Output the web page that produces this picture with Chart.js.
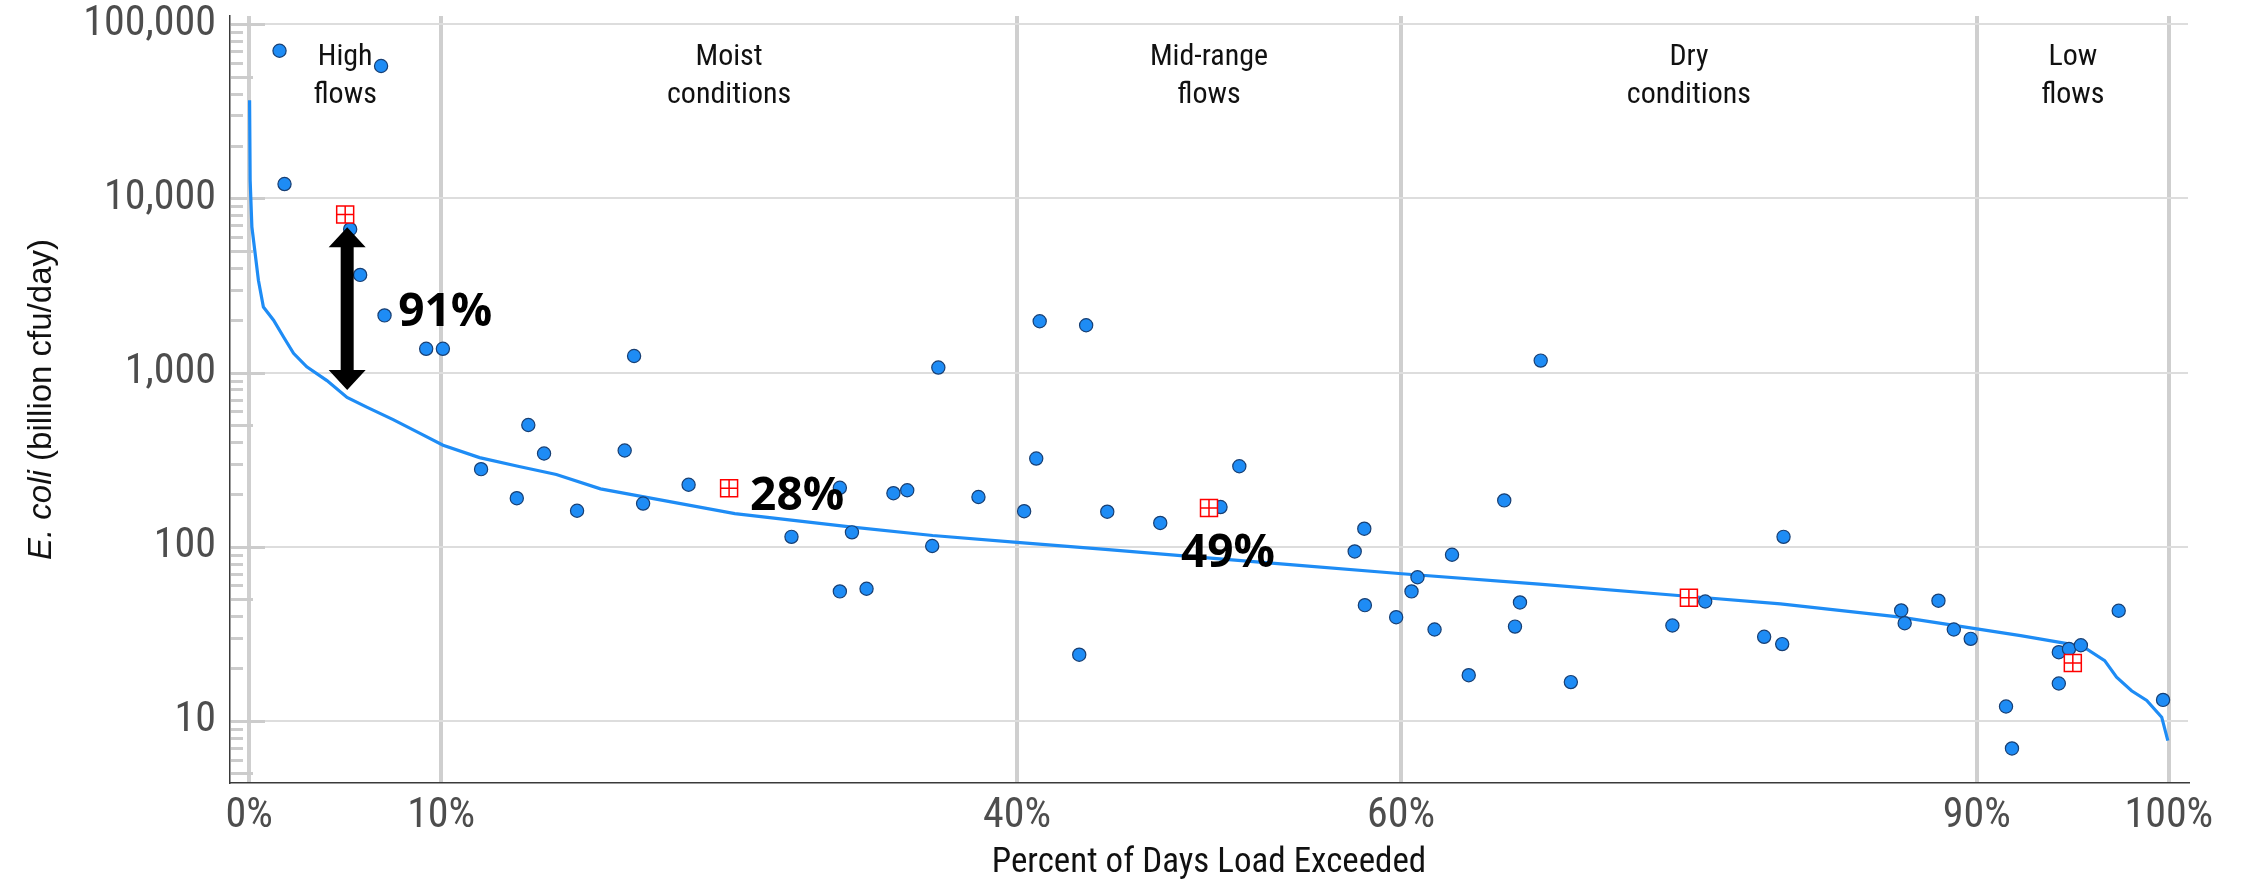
<!DOCTYPE html>
<html>
<head>
<meta charset="utf-8">
<script src="https://cdn.jsdelivr.net/npm/chart.js@4.4.1/dist/chart.umd.min.js"></script>
<style>
  html, body { margin: 0; padding: 0; background: #ffffff; }
  #wrap { width: 2242px; height: 887px; position: relative; }
</style>
</head>
<body>
<div id="wrap"><canvas id="ldc"></canvas></div>
<script>
// Flow-zone boundaries (percent of days exceeded) and axis ticks
const zoneBounds = [0, 10, 40, 60, 90, 100];
const xTickValues = [0, 10, 40, 60, 90, 100];
const yTickValues = [10, 100, 1000, 10000, 100000];
const zoneNames = [
  ['High', 'flows'],
  ['Moist', 'conditions'],
  ['Mid-range', 'flows'],
  ['Dry', 'conditions'],
  ['Low', 'flows']
];

// Load duration curve (allowable load at the criterion)
const curvePct = [0.02, 0.05, 0.14, 0.31, 0.48, 0.74, 1.27, 1.79, 2.31, 3.0, 4.05, 5.1, 6.15, 7.5, 8.9,
  10.1, 12, 14, 16, 18.3, 25.3, 31.3, 35.6, 40, 44.6, 50.4, 54.7, 60.05, 67.2, 75.07, 79.77, 86.02,
  90, 92.28, 94.78, 95.72, 96.66, 97.28, 98.06, 98.85, 99.63, 99.95];
const curveLoad = [36600, 12700, 6870, 4830, 3390, 2380, 2000, 1600, 1290, 1080, 900, 720, 631, 537, 448,
  383, 325, 290, 260, 215, 155, 130, 116, 106, 96.5, 85.4, 78.1, 70, 61, 51.8, 47, 39.4,
  33.8, 30.9, 27.7, 25.9, 22.2, 17.8, 14.9, 13.1, 10.5, 7.7];

// Observed sample loads
const samplePct = [1.58, 1.84, 5.26, 5.78, 6.87, 7.05, 9.22, 10.09, 12.08, 13.94, 14.54, 15.36, 17.08,
  19.56, 20.05, 20.52, 22.89, 28.25, 30.77, 30.77, 31.4, 32.16, 33.56, 34.28, 35.58, 35.9, 37.99,
  40.37, 41.0, 41.18, 43.24, 43.6, 44.7, 47.46, 50.6, 51.58, 57.59, 58.09, 58.12, 59.75, 60.55,
  60.86, 61.75, 62.66, 63.53, 65.38, 65.94, 66.2, 67.28, 68.85, 74.14, 75.85, 78.92, 79.86, 79.93,
  86.06, 86.24, 88.0, 88.8, 89.68, 91.52, 91.83, 94.27, 94.27, 94.8, 95.42, 97.39, 99.7];
const sampleLoad = [70500, 12100, 6660, 3640, 57600, 2130, 1370, 1370, 279, 190, 500, 343, 161,
  357, 1245, 177, 227, 114, 218, 55.4, 121, 57.4, 203, 211, 101, 1069, 193,
  160, 321, 1972, 24, 1871, 159, 137, 169, 290, 94, 127, 46.2, 39.4, 55.4,
  66.8, 33.5, 90, 18.3, 184.6, 34.8, 47.9, 1172, 16.7, 35.3, 48.5, 30.4, 27.6, 114,
  43.1, 36.4, 49, 33.5, 29.6, 12.1, 6.95, 24.8, 16.4, 25.9, 27.2, 42.9, 13.2];

// Zone targets (90th percentile of samples in each zone)
const targetPct = [5, 25, 50, 75, 95];
const targetLoad = [8090, 217, 167, 51, 21.5];

// Required reductions for the first three zones, and the high-flow arrow span
const reductionText = ['91%', '28%', '49%'];
const arrowSpan = [6840, 794];

const COND = "'Roboto Condensed', 'Liberation Sans Narrow', Roboto, sans-serif";
Chart.defaults.font.family = COND;

const toXY = (xs, ys) => xs.map((x, i) => ({ x: x, y: ys[i] }));
const BLUE = '#1e8cf5';

function fixPad(s) {
  s.paddingTop = 0; s.paddingBottom = 0; s.paddingLeft = 0; s.paddingRight = 0;
}

const decor = {
  id: 'decor',
  beforeDatasetsDraw(chart) {
    const { ctx, chartArea: a, scales: { y } } = chart;
    ctx.save();
    ctx.strokeStyle = '#cccccc';
    ctx.lineWidth = 3;
    for (let d = 1; d <= 100000; d *= 10) {
      for (let m = 1; m <= 9; m++) {
        const v = m * d;
        if (v < y.min || v > y.max) continue;
        const py = Math.round(y.getPixelForValue(v));
        const len = m === 1 ? 35 : (m === 5 ? 23 : 13);
        ctx.beginPath();
        ctx.moveTo(a.left + 1, py + 0.5);
        ctx.lineTo(a.left + len, py + 0.5);
        ctx.stroke();
      }
    }
    ctx.restore();
  },
  afterDatasetsDraw(chart) {
    const { ctx, chartArea: a, scales: { x, y } } = chart;
    ctx.save();

    // Double-headed arrow between the high-flow target and the curve
    const ax = x.getPixelForValue(targetPct[0]) + 2;
    const yTop = y.getPixelForValue(arrowSpan[0]);
    const yBot = y.getPixelForValue(arrowSpan[1]);
    const shaft = 6.5, head = 18.5, hl = 20;
    ctx.fillStyle = '#000000';
    ctx.beginPath();
    ctx.moveTo(ax, yTop);
    ctx.lineTo(ax + head, yTop + hl);
    ctx.lineTo(ax + shaft, yTop + hl);
    ctx.lineTo(ax + shaft, yBot - hl);
    ctx.lineTo(ax + head, yBot - hl);
    ctx.lineTo(ax, yBot);
    ctx.lineTo(ax - head, yBot - hl);
    ctx.lineTo(ax - shaft, yBot - hl);
    ctx.lineTo(ax - shaft, yTop + hl);
    ctx.lineTo(ax - head, yTop + hl);
    ctx.closePath();
    ctx.fill();

    // Reduction percentages
    const offsets = [[53, 112], [21, 22], [-28, 59]];
    ctx.font = "bold 46px 'Open Sans', 'Noto Sans', sans-serif";
    ctx.textAlign = 'left';
    ctx.textBaseline = 'alphabetic';
    reductionText.forEach((t, i) => {
      const px = x.getPixelForValue(targetPct[i]) + offsets[i][0];
      const py = y.getPixelForValue(targetLoad[i]) + offsets[i][1];
      ctx.fillText(t, px, py);
    });

    // Flow-zone names centred in each zone
    ctx.font = '30px ' + COND;
    ctx.fillStyle = '#111111';
    ctx.textAlign = 'center';
    zoneNames.forEach((lines, i) => {
      const cx = x.getPixelForValue((zoneBounds[i] + zoneBounds[i + 1]) / 2);
      lines.forEach((ln, j) => ctx.fillText(ln, cx, a.top + 49 + j * 38));
    });

    // Y-axis title with italic species name
    const partA = 'E. coli';
    const partB = ' (billion cfu/day)';
    ctx.translate(51, (a.top + a.bottom) / 2);
    ctx.rotate(-Math.PI / 2);
    ctx.textAlign = 'left';
    ctx.fillStyle = '#111111';
    const fA = "italic 33px 'Liberation Sans', Arial, sans-serif";
    const fB = "33px 'Liberation Sans', Arial, sans-serif";
    ctx.font = fA; const wA = ctx.measureText(partA).width;
    ctx.font = fB; const wB = ctx.measureText(partB).width;
    const start = -(wA + wB) / 2;
    ctx.font = fA; ctx.fillText(partA, start, 0);
    ctx.font = fB; ctx.fillText(partB, start + wA, 0);

    ctx.restore();
  }
};

new Chart(document.getElementById('ldc'), {
  type: 'scatter',
  data: {
    datasets: [
      { label: 'Target', data: toXY(targetPct, targetLoad), pointStyle: 'cross', pointRadius: 8.5,
        borderColor: '#ff0000', borderWidth: 1.5, order: 0 },
      { label: 'Target box', data: toXY(targetPct, targetLoad), pointStyle: 'rect', pointRadius: 12,
        backgroundColor: '#ffffff', borderColor: '#ff0000', borderWidth: 1.5, order: 1 },
      { label: 'Samples', data: toXY(samplePct, sampleLoad), pointRadius: 6.6,
        backgroundColor: BLUE, borderColor: '#183f73', borderWidth: 1.2, order: 2 },
      { label: 'Load duration curve', data: toXY(curvePct, curveLoad), showLine: true, pointRadius: 0,
        borderColor: BLUE, borderWidth: 3.2, tension: 0, order: 3 }
    ]
  },
  options: {
    responsive: true,
    maintainAspectRatio: false,
    animation: false,
    devicePixelRatio: 1,
    events: [],
    layout: { padding: { left: 0, right: 54, top: 16, bottom: 0 } },
    plugins: { legend: { display: false }, tooltip: { enabled: false } },
    scales: {
      x: {
        type: 'linear', min: -1, max: 101,
        afterBuildTicks: s => { s.ticks = xTickValues.map(v => ({ value: v })); },
        afterFit: s => { s.height = 104; fixPad(s); },
        grid: { color: '#cfcfcf', lineWidth: 4, drawTicks: false },
        border: { display: true, color: '#3a3a3a', width: 1.5 },
        ticks: { callback: v => v + '%', color: '#4d4d4d', font: { size: 42 }, padding: 8,
          maxRotation: 0, autoSkip: false },
        title: { display: true, text: 'Percent of Days Load Exceeded', color: '#111111',
          font: { size: 35 }, padding: { top: 0, bottom: 3 } }
      },
      y: {
        type: 'logarithmic', min: 4.4, max: 111600,
        afterBuildTicks: s => { s.ticks = yTickValues.map(v => ({ value: v })); },
        afterFit: s => { s.width = 230; fixPad(s); },
        grid: { color: '#dddddd', lineWidth: 2, drawTicks: false },
        border: { display: true, color: '#3a3a3a', width: 1.5 },
        ticks: { callback: v => Number(v).toLocaleString('en-US'), color: '#4d4d4d',
          font: { size: 42 }, padding: 14 }
      }
    }
  },
  plugins: [decor]
});
</script>
</body>
</html>
